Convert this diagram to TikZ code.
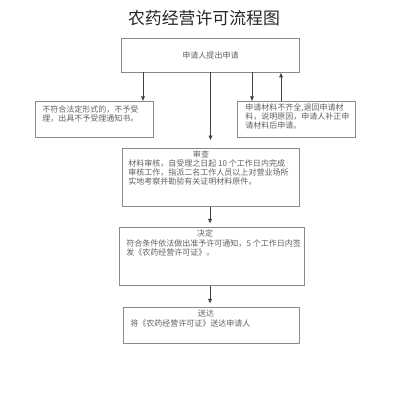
\documentclass[tikz,border=0pt]{standalone}
\usepackage{fontspec}
\setmainfont{Noto Sans CJK SC}
\usetikzlibrary{arrows.meta}
\definecolor{boxgray}{HTML}{8A8A8A}
\definecolor{txtgray}{HTML}{606060}
\tikzset{
  box/.style 2 args={draw=boxgray, line width=0.7pt, minimum width=#1cm, minimum height=#2cm, inner sep=0pt},
  txt/.style={text=txtgray, inner sep=0pt, align=left, font=\fontsize{5.7pt}{6.5pt}\selectfont},
  ttl/.style={text=txtgray, inner sep=0pt, font=\fontsize{5.7pt}{6.5pt}\selectfont},
  arr/.style={draw=black!75, line width=0.6pt, -{Latex[length=3.5pt,width=3pt]}}
}
\begin{document}
\begin{tikzpicture}[x=0.025cm,y=-0.025cm]
\useasboundingbox (0,0) rectangle (400,400);
\node[font=\fontsize{12pt}{14pt}\selectfont, text=black!85] (title) at (204,18) {农药经营许可流程图};
% boxes
\node[box={4.43}{0.85}] (apply) at (210.5,55) {};
\node[box={2.93}{0.88}] (reject) at (94.5,119.5) {};
\node[box={2.93}{0.88}] (supply) at (296.5,119.5) {};
\node[box={4.4}{1.45}] (review) at (211,177) {};
\node[box={4.6}{1.45}] (decide) at (212,256) {};
\node[box={4.38}{0.9}] (send) at (211.5,325) {};
% texts
\node[ttl] (applyt) at (apply) {申请人提出申请};
\node[txt, anchor=north west] (rejectt) at (42,105) {不符合法定形式的，不予受\\理，出具不予受理通知书。};
\node[txt, anchor=north west] (supplyt) at (245,103) {申请材料不齐全,退回申请材\\料，说明原因，申请人补正申\\请材料后申请。};
\node[ttl] (reviewh) at (201,154) {审查};
\node[txt, anchor=north west] (reviewt) at (128,159.5) {材料审核，自受理之日起 10 个工作日内完成\\审核工作，指派二名工作人员以上对营业场所\\实地考察并勘验有关证明材料原件。};
\node[ttl] (decideh) at (205,233) {决定};
\node[txt, anchor=north west] (decidet) at (126,239) {符合条件依法做出准予许可通知，5 个工作日内签\\发《农药经营许可证》。};
\node[ttl] (sendh) at (206,313) {送达};
\node[txt, anchor=north west] (sendt) at (130,319) {将《农药经营许可证》送达申请人};
% connectors
\draw[arr] (apply.south -| 143,0) -- (reject.north -| 143,0);
\draw[arr, shorten >=5pt] (apply.south) -- (apply.south |- review.north);
\draw[arr] (apply.south -| 252,0) -- (supply.north -| 252,0);
\draw[arr] (supply.north -| 281,0) -- (apply.south -| 281,0);
\draw[arr, shorten >=2pt] (review.south -| 210,0) -- (decide.north -| 210,0);
\draw[arr, shorten >=2pt] (decide.south -| 210,0) -- (send.north -| 210,0);
\end{tikzpicture}
\end{document}
